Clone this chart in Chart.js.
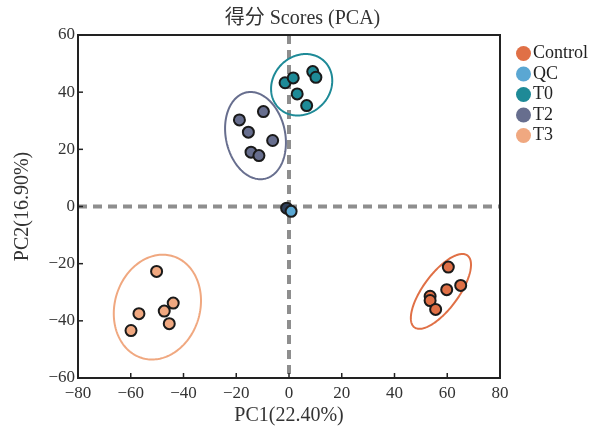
<!DOCTYPE html>
<html><head><meta charset="utf-8">
<script src="https://cdn.jsdelivr.net/npm/chart.js@4/dist/chart.umd.min.js"></script>
<style>html,body{margin:0;padding:0;background:#fff}#c{display:block}</style>
</head><body>
<canvas id="c" width="605" height="432"></canvas>
<script>
const groups = ['Control', 'QC', 'T0', 'T2', 'T3'];
const colors = ['#E07046', '#5AA7D3', '#1E8A97', '#676E8E', '#F0A880'];
const controlX = [60.4, 65.1, 59.8, 53.5, 53.5, 55.6];
const controlY = [-21.2, -27.6, -29.1, -31.4, -32.9, -36.0];
const qcX = [-0.9, 0.8];
const qcY = [-0.6, -1.7];
const qcPointColors = ['#2f3f5a', '#5AA7D3'];
const t0X = [-1.5, 1.6, 9.0, 10.2, 3.1, 6.7];
const t0Y = [43.3, 45.0, 47.2, 45.2, 39.4, 35.3];
const t2X = [-18.8, -9.7, -15.4, -6.2, -14.4, -11.4];
const t2Y = [30.3, 33.2, 26.0, 23.1, 19.0, 17.8];
const t3X = [-50.2, -43.9, -47.3, -56.9, -45.4, -59.9];
const t3Y = [-22.7, -33.8, -36.6, -37.5, -41.0, -43.4];
// confidence ellipses: group index, centre, semi-axes, angle (deg)
const ellipseGroup = [0, 2, 3, 4];
const ellipseCX = [57.6, 4.8, -12.7, -49.9];
const ellipseCY = [-29.7, 42.6, 24.8, -35.2];
const ellipseA = [16.1, 12.0, 15.5, 18.8];
const ellipseB = [6.5, 10.3, 11.2, 16.0];
const ellipseAngle = [50.5, 30, 105, 65];
const xTicks = [-80, -60, -40, -20, 0, 20, 40, 60, 80];
const yTicks = [-60, -40, -20, 0, 20, 40, 60];

const FONT = "'Liberation Serif', 'Noto Sans CJK SC', serif";
const pts = (xs, ys) => xs.map((x, i) => ({x, y: ys[i]}));
const seriesX = [controlX, qcX, t0X, t2X, t3X];
const seriesY = [controlY, qcY, t0Y, t2Y, t3Y];
const fmt = v => String(v).replace('-', '\u2212');

const datasets = groups.map((g, i) => ({
  label: g,
  data: pts(seriesX[i], seriesY[i]),
  backgroundColor: g === 'QC' ? qcPointColors : colors[i],
  borderColor: '#1a1a1a',
  borderWidth: 2,
  pointRadius: 5.5,
  pointHoverRadius: 5.5,
  order: g === 'QC' ? 0 : 1
}));

const decor = {
  id: 'decor',
  afterLayout(chart) {
    const lg = chart.legend;
    if (lg) {
      lg.left = 520.5; lg.top = 42; lg.right = 605; lg.bottom = 260;
      if (!lg._noClip && typeof lg._draw === 'function') {
        lg._noClip = true;
        lg.draw = function () { if (this.options.display) this._draw(); };
      }
    }
    const tb = chart.titleBlock;
    if (tb) { tb.left = 0; tb.right = 605; tb.width = 605; }
  },
  beforeDatasetsDraw(chart) {
    const {ctx, chartArea: a, scales: {x, y}} = chart;
    ctx.save();
    ctx.strokeStyle = '#8e8e8e';
    ctx.lineWidth = 4;
    ctx.setLineDash([9, 6]);
    const x0 = x.getPixelForValue(0), y0 = y.getPixelForValue(0);
    ctx.beginPath(); ctx.moveTo(x0, a.top); ctx.lineTo(x0, a.bottom); ctx.stroke();
    ctx.beginPath(); ctx.moveTo(a.left, y0); ctx.lineTo(a.right, y0); ctx.stroke();
    ctx.setLineDash([]);
    ctx.lineWidth = 2;
    ellipseGroup.forEach((gi, k) => {
      const th = ellipseAngle[k] * Math.PI / 180;
      const c = Math.cos(th), s = Math.sin(th);
      ctx.strokeStyle = colors[gi];
      ctx.beginPath();
      for (let j = 0; j <= 180; j++) {
        const t = j / 180 * 2 * Math.PI;
        const dx = ellipseA[k] * Math.cos(t), dy = ellipseB[k] * Math.sin(t);
        const px = x.getPixelForValue(ellipseCX[k] + dx * c - dy * s);
        const py = y.getPixelForValue(ellipseCY[k] + dx * s + dy * c);
        if (j === 0) ctx.moveTo(px, py); else ctx.lineTo(px, py);
      }
      ctx.closePath();
      ctx.stroke();
    });
    ctx.restore();
  },
  afterDraw(chart) {
    const {ctx, chartArea: a, scales: {x, y}} = chart;
    ctx.save();
    ctx.strokeStyle = '#222';
    ctx.lineWidth = 2;
    ctx.strokeRect(a.left, a.top, a.right - a.left, a.bottom - a.top);
    ctx.lineWidth = 1.5;
    xTicks.forEach(v => {
      const px = x.getPixelForValue(v);
      ctx.beginPath(); ctx.moveTo(px, a.bottom); ctx.lineTo(px, a.bottom - 5); ctx.stroke();
    });
    yTicks.forEach(v => {
      const py = y.getPixelForValue(v);
      ctx.beginPath(); ctx.moveTo(a.left, py); ctx.lineTo(a.left + 5, py); ctx.stroke();
    });
    ctx.restore();
  }
};

new Chart(document.getElementById('c'), {
  type: 'scatter',
  data: {datasets},
  options: {
    responsive: false,
    animation: false,
    events: [],
    layout: {padding: {top: 0, right: 105, left: 0, bottom: 0}},
    plugins: {
      title: {
        display: true, text: '得分 Scores (PCA)', color: '#333',
        font: {family: FONT, size: 20, weight: 'normal'}, padding: {top: 6.5, bottom: 4.5}
      },
      legend: {
        position: 'chartArea', align: 'start',
        labels: {
          usePointStyle: true, pointStyle: 'circle', boxWidth: 1, boxHeight: 10.6,
          padding: 2.5, color: '#222',
          font: {family: FONT, size: 18},
          generateLabels: chart => groups.map((g, i) => ({
            text: g, fillStyle: colors[i], strokeStyle: colors[i], lineWidth: 0,
            pointStyle: 'circle', datasetIndex: i, fontColor: '#222'
          }))
        }
      },
      tooltip: {enabled: false}
    },
    scales: {
      x: {
        type: 'linear', min: -80, max: 80,
        afterBuildTicks: s => { s.ticks = xTicks.map(v => ({value: v})); },
        grid: {display: false, drawTicks: false},
        border: {display: false},
        ticks: {color: '#333', font: {family: FONT, size: 17}, padding: 5, callback: fmt},
        title: {display: true, text: 'PC1(22.40%)', color: '#333', font: {family: FONT, size: 20}, padding: {bottom: 4}},
        afterFit: s => { s.height = 54; }
      },
      y: {
        type: 'linear', min: -60, max: 60,
        afterBuildTicks: s => { s.ticks = yTicks.map(v => ({value: v})); },
        grid: {display: false, drawTicks: false},
        border: {display: false},
        ticks: {color: '#333', font: {family: FONT, size: 17}, padding: 3, callback: fmt},
        title: {display: true, text: 'PC2(16.90%)', color: '#333', font: {family: FONT, size: 20}, padding: {top: 11}},
        afterFit: s => { s.width = 78; }
      }
    }
  },
  plugins: [decor]
});
</script>
</body></html>
